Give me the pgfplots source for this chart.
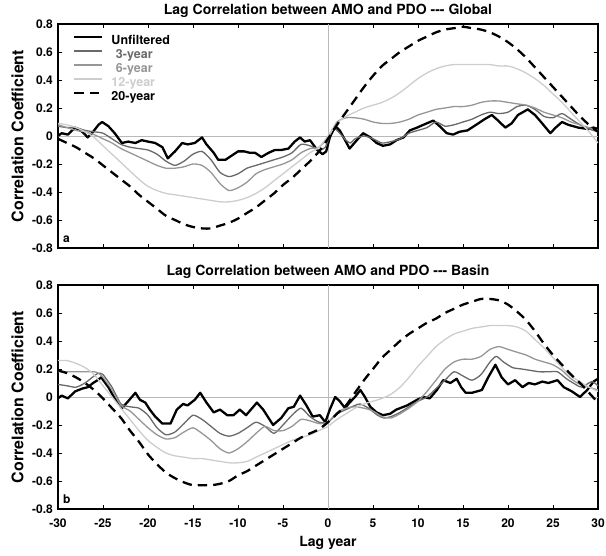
\documentclass[border=0pt]{standalone}
\usepackage{fontspec}
\setmainfont{TeX Gyre Heros}
\usepackage{pgfplots}
\pgfplotsset{compat=1.18}

\definecolor{gthree}{RGB}{105,105,105}
\definecolor{gsix}{RGB}{150,150,150}
\definecolor{gtwelve}{RGB}{205,205,205}
\definecolor{gzero}{RGB}{185,185,185}

% three separate hyphens, not a dash ligature
\newcommand{\tripledash}{-\kern0pt-\kern0pt-}

\pgfplotsset{
  lagpanel/.style={
    width=540pt, height=224pt, scale only axis,
    xmin=-30, xmax=30, ymin=-0.8, ymax=0.8,
    xtick={-30,-25,-20,-15,-10,-5,0,5,10,15,20,25,30},
    ytick={-0.8,-0.6,-0.4,-0.2,0,0.2,0.4,0.6,0.8},
    tick align=inside, major tick length=4pt,
    every tick/.style={black, line width=0.8pt},
    axis line style={line width=1.3pt},
    /pgf/number format/assume math mode=true,
    /pgf/number format/fixed, /pgf/number format/precision=1,
    tick label style={font=\bfseries\fontsize{12}{14}\selectfont},
    yticklabel style={inner sep=0pt, xshift=-5pt},
    xticklabel style={inner sep=0pt, yshift=-10pt},
    title style={at={(axis description cs:0.5,1)}, anchor=base, yshift=3.5pt,
                 inner sep=0pt, font=\bfseries\fontsize{14}{16}\selectfont},
    every axis y label/.style={at={(axis description cs:-0.075,0.5)}, rotate=90,
                 anchor=center, font=\bfseries\fontsize{16}{18}\selectfont},
    ylabel={Correlation Coefficient},
    clip=true,
  },
  unf/.style={black, line width=2.3pt, line join=round},
  y3/.style={gthree, line width=1.3pt, smooth, tension=0.4},
  y6/.style={gsix, line width=1.3pt, smooth, tension=0.4},
  y12/.style={gtwelve, line width=1.3pt, smooth, tension=0.5},
  y20/.style={black, line width=2.3pt, dash pattern=on 9.5pt off 6pt, smooth, tension=0.5},
  zl/.style={gzero, line width=0.8pt, forget plot},
}

\begin{document}
\begin{tikzpicture}

% ---------------- panel a: Global ----------------
\begin{axis}[lagpanel, at={(58pt,308pt)}, anchor=south west,
  xticklabel=\empty,
  title={Lag Correlation between AMO and PDO \tripledash{} Global},
  legend style={at={(axis description cs:0,1)}, anchor=north west,
    xshift=12pt, yshift=-9pt, draw=none, fill=none,
    font=\bfseries\fontsize{12.5}{14}\selectfont,
    nodes={inner sep=0pt, text height=9pt, text depth=2.5pt},
    row sep=2.5pt, column sep=0pt},
  legend cell align=left,
  legend image code/.code={\draw[#1] (0pt,3.8pt) -- (28pt,3.8pt); \path (36pt,3.8pt);},
]
\addplot[zl] coordinates {(-30,0) (30,0)};
\addplot[zl] coordinates {(0,-0.8) (0,0.8)};

\addplot[unf] coordinates {
(-30,0.00) (-29.6,0.02) (-28.9,0.01) (-28.1,0.06) (-27.3,0.03) (-26.7,-0.01)
(-26.1,0.03) (-25.5,0.08) (-25.1,0.10) (-24.4,0.07) (-23.7,0.02) (-22.9,-0.05)
(-22.2,-0.04) (-21.4,-0.05) (-20.7,-0.03) (-20,-0.04) (-19.2,-0.05) (-18.4,-0.08)
(-17.8,-0.16) (-17,-0.11) (-16.2,-0.05) (-15.6,-0.06) (-14.8,-0.05) (-14,-0.01)
(-13.5,-0.06) (-12.7,-0.12) (-12.2,-0.17) (-11.4,-0.17) (-10.7,-0.14) (-10,-0.11)
(-9.3,-0.11) (-8.7,-0.12) (-8.1,-0.12) (-7.4,-0.15) (-6.6,-0.12) (-5.9,-0.10)
(-5.2,-0.10) (-4.4,-0.09) (-3.7,-0.04) (-3.1,-0.01) (-2.6,-0.04) (-2,-0.03)
(-1.2,-0.10) (-0.6,-0.13) (-0.2,-0.11) (0.2,-0.01) (0.8,0.07) (1.3,0.04)
(1.9,-0.03) (2.4,-0.09) (3.2,-0.03) (3.9,0.02) (4.7,-0.01) (5.4,-0.05)
(6.1,-0.07) (6.9,-0.06) (7.6,-0.03) (8.4,-0.01) (9.1,0.04) (9.9,0.06)
(10.6,0.08) (11.7,0.11) (12.4,0.07) (13.2,0.02) (13.9,0.01) (14.6,0.03)
(15.5,0.04) (16.7,0.09) (17.4,0.12) (18.2,0.15) (18.9,0.11) (19.7,0.06)
(20.4,0.09) (21.1,0.15) (22.2,0.19) (23,0.15) (23.8,0.09) (24.7,0.02)
(25.3,0.06) (26,0.10) (26.7,0.08) (27.8,0.06) (28.9,0.05) (29.5,0.06) (30,0.05)
};
\addlegendentry{Unfiltered}

\addplot[y3] coordinates {
(-30,0.07) (-29,0.06) (-28,0.06) (-27,0.04) (-26,0.03) (-25,0.02) (-24,-0.02)
(-23,-0.06) (-22,-0.08) (-21,-0.09) (-20,-0.10) (-19,-0.13) (-18,-0.18)
(-17,-0.21) (-16,-0.18) (-15,-0.13) (-14,-0.11) (-13,-0.17) (-12,-0.26)
(-11,-0.29) (-10,-0.27) (-9,-0.23) (-8,-0.21) (-7,-0.19) (-6,-0.17) (-5,-0.15)
(-4,-0.12) (-3,-0.06) (-2,-0.07) (-1,-0.10) (-0.3,-0.08) (0.5,0.05) (1,0.04)
(2,-0.03) (2.5,-0.05) (3,-0.02) (4,0.00) (5,-0.02) (6,-0.05) (7,-0.04)
(8,-0.02) (9,0.02) (10,0.04) (11,0.06) (12,0.10) (13,0.07) (14,0.08)
(15,0.10) (16,0.12) (17,0.15) (18,0.17) (19,0.16) (20,0.17) (21,0.21)
(22,0.22) (23,0.19) (24,0.14) (25,0.13) (26,0.16) (27,0.12) (28,0.08)
(29,0.05) (30,0.03)
};
\addlegendentry{\textcolor{gthree}{\hspace*{4.5pt}3-year}}

\addplot[y6] coordinates {
(-30,0.08) (-29,0.06) (-28,0.04) (-27,0.03) (-26,0.01) (-25,-0.02) (-24,-0.05)
(-23,-0.09) (-22,-0.12) (-21,-0.15) (-20,-0.18) (-19,-0.21) (-18,-0.23)
(-17,-0.23) (-16,-0.22) (-15,-0.20) (-14,-0.21) (-13,-0.26) (-12,-0.34)
(-11,-0.39) (-10,-0.37) (-9,-0.33) (-8,-0.27) (-7,-0.24) (-6,-0.22) (-5,-0.20)
(-4,-0.17) (-3,-0.12) (-2,-0.09) (-1,-0.08) (0,-0.01) (1,0.10) (2,0.13)
(3,0.13) (4,0.12) (5,0.10) (6,0.09) (7,0.09) (8,0.10) (9,0.12) (10,0.15)
(11,0.17) (12,0.19) (13,0.20) (14,0.21) (15,0.21) (16,0.22) (17,0.24)
(18,0.25) (19,0.25) (20,0.24) (21,0.23) (22,0.22) (23,0.20) (24,0.17)
(25,0.15) (26,0.13) (27,0.10) (28,0.08) (29,0.06) (30,0.04)
};
\addlegendentry{\textcolor{gsix}{\hspace*{4.5pt}6-year}}

\addplot[y12] coordinates {
(-30,0.09) (-29,0.08) (-28,0.06) (-27,0.03) (-26,-0.01) (-25,-0.07) (-24,-0.13)
(-23,-0.19) (-22,-0.25) (-21,-0.31) (-20,-0.36) (-19,-0.39) (-18,-0.41)
(-17,-0.42) (-16,-0.43) (-15,-0.44) (-14,-0.45) (-13,-0.46) (-12,-0.47)
(-11,-0.47) (-10,-0.46) (-9,-0.44) (-8,-0.41) (-7,-0.37) (-6,-0.32)
(-5,-0.27) (-4,-0.22) (-3,-0.17) (-2,-0.12) (-1,-0.08) (0,0.00) (1,0.09)
(2,0.14) (3,0.17) (4,0.20) (5,0.22) (6,0.24) (7,0.27) (8,0.31) (9,0.36)
(10,0.41) (11,0.45) (12,0.48) (13,0.50) (14,0.51) (15,0.51) (16,0.51)
(17,0.51) (18,0.51) (19,0.50) (20,0.50) (21,0.48) (22,0.45) (23,0.41)
(24,0.36) (25,0.30) (26,0.24) (27,0.17) (28,0.10) (29,0.03) (30,-0.05)
};
\addlegendentry{\textcolor{gtwelve}{12-year}}

\addplot[y20] coordinates {
(-30,-0.02) (-29,-0.05) (-28,-0.08) (-27,-0.12) (-26,-0.16) (-25,-0.21)
(-24,-0.26) (-23,-0.31) (-22,-0.36) (-21,-0.42) (-20,-0.47) (-19,-0.52)
(-18,-0.57) (-17,-0.60) (-16,-0.63) (-15,-0.65) (-14,-0.66) (-13,-0.66)
(-12,-0.64) (-11,-0.62) (-10,-0.59) (-9,-0.55) (-8,-0.51) (-7,-0.46)
(-6,-0.41) (-5,-0.35) (-4,-0.30) (-3,-0.24) (-2,-0.18) (-1,-0.11) (0,-0.02)
(1,0.08) (2,0.17) (3,0.26) (4,0.35) (5,0.43) (6,0.50) (7,0.55) (8,0.60)
(9,0.64) (10,0.68) (11,0.71) (12,0.74) (13,0.76) (14,0.77) (15,0.78)
(16,0.77) (17,0.76) (18,0.74) (19,0.71) (20,0.67) (21,0.62) (22,0.56)
(23,0.49) (24,0.42) (25,0.35) (26,0.28) (27,0.21) (28,0.14) (29,0.08) (30,0.03)
};
\addlegendentry{20-year}

\node[anchor=base west, inner sep=0pt, font=\bfseries\fontsize{12}{14}\selectfont]
  at ([xshift=5pt,yshift=5pt]axis description cs:0,0) {a};
\end{axis}

% ---------------- panel b: Basin ----------------
\begin{axis}[lagpanel, at={(58pt,47pt)}, anchor=south west,
  title={Lag Correlation between AMO and PDO \tripledash{} Basin},
  xlabel={Lag year},
  every axis x label/.style={at={(axis description cs:0.5,-0.152)}, anchor=center,
    font=\bfseries\fontsize{14}{16}\selectfont},
]
\addplot[zl] coordinates {(-30,0) (30,0)};
\addplot[zl] coordinates {(0,-0.8) (0,0.8)};

\addplot[unf] coordinates {
(-30,-0.01) (-29.6,0.01) (-28.9,-0.01) (-28.1,0.04) (-27.3,0.06) (-26.7,0.07)
(-26.1,0.10) (-25.6,0.12) (-25.2,0.14) (-24.4,0.07) (-23.7,-0.01) (-22.9,-0.08)
(-22.2,-0.03) (-21.4,0.03) (-20.9,-0.02) (-20.3,-0.04) (-19.8,-0.09) (-19.2,-0.14)
(-18.4,-0.19) (-17.5,-0.19) (-16.8,-0.09) (-16.1,-0.05) (-15.6,-0.06) (-14.8,-0.02)
(-14.2,0.03) (-13.5,-0.04) (-12.7,-0.11) (-12,-0.09) (-11.2,-0.13) (-10.5,-0.13)
(-9.8,-0.09) (-9.1,-0.13) (-7.9,-0.04) (-7.2,-0.09) (-6.1,-0.20) (-5.2,-0.15)
(-4.4,-0.08) (-3.8,-0.07) (-3.1,0.01) (-2.4,-0.06) (-1.7,-0.14) (-0.9,-0.13)
(-0.3,-0.18) (0.2,-0.09) (0.8,0.00) (1.3,-0.03) (1.9,-0.08) (2.4,-0.04)
(3,0.00) (3.6,0.05) (4.1,0.00) (4.7,-0.07) (5.4,-0.11) (6.1,-0.13) (6.9,-0.12)
(7.6,-0.09) (8.8,-0.06) (9.9,-0.02) (10.6,0.00) (11.3,-0.01) (12.1,0.05)
(12.8,0.12) (13.6,0.10) (14.3,0.13) (14.8,0.07) (15.3,0.03) (16,0.03)
(17.1,0.05) (17.8,0.14) (18.6,0.23) (19.3,0.14) (20,0.09) (20.8,0.12)
(21.6,0.07) (22.3,0.10) (23,0.09) (23.8,0.11) (24.5,0.10) (25.5,0.12)
(26.2,0.07) (27.1,0.04) (28,0.00) (28.8,0.05) (29.5,0.11) (30,0.13)
};

\addplot[y3] coordinates {
(-30,0.09) (-29,0.08) (-28,0.07) (-27,0.10) (-26,0.15) (-25.5,0.17) (-25,0.16)
(-24,0.07) (-23,-0.05) (-22,-0.07) (-21,-0.08) (-20,-0.13) (-19,-0.22)
(-18,-0.27) (-17,-0.25) (-16,-0.19) (-15,-0.13) (-14,-0.16) (-13,-0.21)
(-12,-0.26) (-11,-0.28) (-10,-0.26) (-9,-0.22) (-8,-0.18) (-7,-0.21) (-6,-0.26)
(-5,-0.20) (-4,-0.13) (-3,-0.08) (-2,-0.14) (-1,-0.18) (0,-0.18) (1,-0.12)
(2,-0.09) (3,-0.06) (3.6,-0.05) (4.5,-0.08) (5.5,-0.13) (6.2,-0.15) (7,-0.14)
(8,-0.11) (9,-0.07) (10,-0.03) (11,0.00) (12,0.06) (13,0.12) (14,0.18)
(15,0.15) (16,0.12) (17,0.16) (18,0.25) (18.7,0.29) (19.5,0.25) (20.5,0.21)
(21.5,0.20) (22.5,0.19) (23.5,0.18) (24.5,0.18) (25.5,0.18) (26.5,0.13)
(27.5,0.09) (28.2,0.07) (29.3,0.11) (30,0.08)
};

\addplot[y6] coordinates {
(-30,0.18) (-29,0.18) (-28,0.18) (-27,0.18) (-26,0.18) (-25.5,0.17) (-25,0.14)
(-24,0.05) (-23,-0.06) (-22,-0.10) (-21,-0.16) (-20,-0.22) (-19,-0.27)
(-18,-0.30) (-17,-0.29) (-16,-0.25) (-15,-0.22) (-14,-0.26) (-13,-0.31)
(-12,-0.37) (-11,-0.40) (-10,-0.37) (-9,-0.32) (-8,-0.26) (-7,-0.21)
(-6,-0.24) (-5,-0.24) (-4,-0.21) (-3,-0.16) (-2,-0.17) (-1,-0.19) (0,-0.18)
(1,-0.11) (2,-0.08) (3,-0.07) (4,-0.08) (5,-0.10) (6,-0.14) (7,-0.15)
(8,-0.12) (9,-0.08) (10,-0.03) (11,0.04) (12,0.12) (13,0.20) (14,0.25)
(15,0.27) (16,0.27) (17,0.29) (18,0.34) (19,0.36) (20,0.34) (21,0.32)
(22,0.30) (23,0.27) (24,0.25) (25,0.23) (26,0.19) (27,0.13) (28,0.09)
(29,0.07) (30,0.05)
};

\addplot[y12] coordinates {
(-30,0.26) (-29,0.26) (-28,0.24) (-27,0.21) (-26,0.16) (-25,0.08) (-24,0.00)
(-23,-0.08) (-22,-0.16) (-21,-0.24) (-20,-0.31) (-19,-0.36) (-18,-0.40)
(-17,-0.42) (-16,-0.43) (-15,-0.44) (-14,-0.44) (-13,-0.45) (-12,-0.46)
(-11,-0.47) (-10,-0.47) (-9,-0.46) (-8,-0.43) (-7,-0.40) (-6,-0.37)
(-5,-0.34) (-4,-0.31) (-3,-0.29) (-2,-0.27) (-1,-0.24) (0,-0.21) (1,-0.16)
(2,-0.12) (3,-0.08) (4,-0.05) (5,-0.03) (6,-0.01) (7,0.02) (8,0.07) (9,0.14)
(10,0.22) (11,0.29) (12,0.36) (13,0.41) (14,0.45) (15,0.47) (16,0.49)
(17,0.50) (18,0.51) (19,0.51) (20,0.51) (21,0.50) (22,0.47) (23,0.41)
(24,0.35) (25,0.28) (26,0.21) (27,0.15) (28,0.11) (29,0.07) (30,0.04)
};

\addplot[y20] coordinates {
(-30,0.19) (-29,0.17) (-28,0.14) (-27,0.10) (-26,0.05) (-25,-0.01) (-24,-0.08)
(-23,-0.15) (-22,-0.24) (-21,-0.32) (-20,-0.41) (-19,-0.48) (-18,-0.54)
(-17,-0.58) (-16,-0.61) (-15,-0.63) (-14,-0.63) (-13,-0.63) (-12,-0.62)
(-11,-0.60) (-10,-0.56) (-9,-0.53) (-8,-0.49) (-7,-0.45) (-6,-0.41)
(-5,-0.37) (-4,-0.33) (-3,-0.29) (-2,-0.26) (-1,-0.23) (0,-0.18) (1,-0.12)
(2,-0.06) (3,0.03) (4,0.12) (5,0.20) (6,0.28) (7,0.34) (8,0.40) (9,0.45)
(10,0.49) (11,0.53) (12,0.56) (13,0.60) (14,0.63) (15,0.66) (16,0.68)
(17,0.70) (18,0.70) (19,0.69) (20,0.66) (21,0.61) (22,0.55) (23,0.47)
(24,0.38) (25,0.30) (26,0.23) (27,0.16) (28,0.10) (29,0.03) (30,-0.04)
};

\node[anchor=base west, inner sep=0pt, font=\bfseries\fontsize{12}{14}\selectfont]
  at ([xshift=5pt,yshift=5pt]axis description cs:0,0) {b};
\end{axis}

\pgfresetboundingbox
\path (0,0) rectangle (606pt,556pt);
\end{tikzpicture}
\end{document}
